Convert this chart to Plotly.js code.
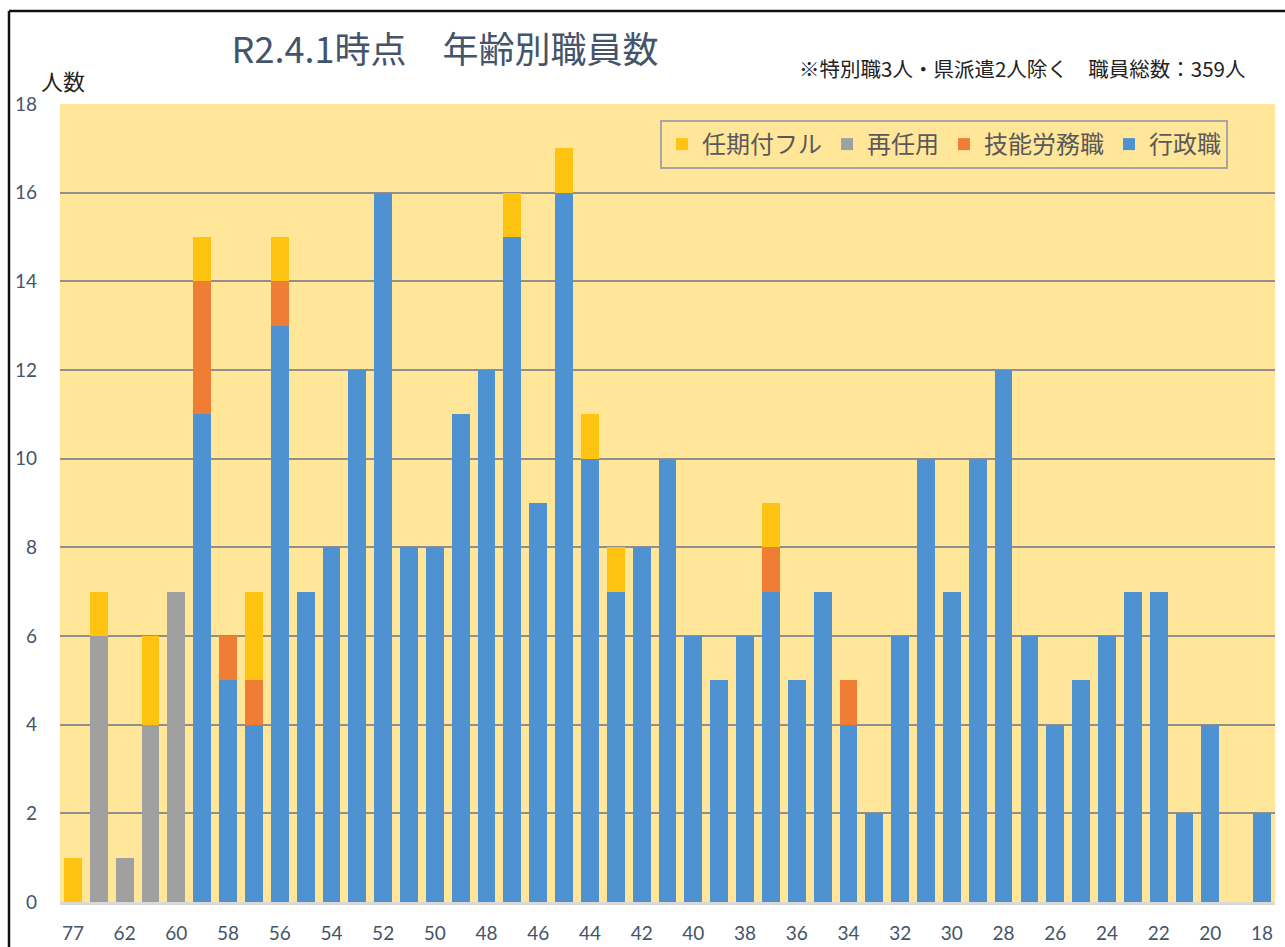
<!DOCTYPE html>
<html>
<head>
<meta charset="utf-8">
<script src="https://cdn.plot.ly/plotly-3.0.1.min.js"></script>
<style>
html,body{margin:0;padding:0;background:#ffffff;}
#chart{width:1285px;height:947px;}
</style>
</head>
<body>
<div id="chart"></div>
<script>
// Age categories (left to right)
const ages = ["77","63","62","61","60","59","58","57","56","55","54","53","52","51","50","49","48","47","46","45","44","43","42","41","40","39","38","37","36","35","34","33","32","31","30","29","28","27","26","25","24","23","22","21","20","19","18"];
// 行政職
const gyosei   = [0,0,0,0,0,11,5,4,13,7,8,12,16,8,8,11,12,15,9,16,10,7,8,10,6,5,6,7,5,7,4,2,6,10,7,10,12,6,4,5,6,7,7,2,4,0,2];
// 技能労務職
const gino     = [0,0,0,0,0,3,1,1,1,0,0,0,0,0,0,0,0,0,0,0,0,0,0,0,0,0,0,1,0,0,1,0,0,0,0,0,0,0,0,0,0,0,0,0,0,0,0];
// 再任用
const sainin   = [0,6,1,4,7,0,0,0,0,0,0,0,0,0,0,0,0,0,0,0,0,0,0,0,0,0,0,0,0,0,0,0,0,0,0,0,0,0,0,0,0,0,0,0,0,0,0];
// 任期付フル
const ninkitsuki = [1,1,0,2,0,1,0,2,1,0,0,0,0,0,0,0,0,1,0,1,1,1,0,0,0,0,0,1,0,0,0,0,0,0,0,0,0,0,0,0,0,0,0,0,0,0,0];
const seriesNames = ["行政職","技能労務職","再任用","任期付フル"];
const yTicks = [0,2,4,6,8,10,12,14,16,18];
const xTickLabels = ages.filter((a,i)=> i%2===0);

const colors = ["#4E92D2","#F07D34","#A0A0A0","#FFC412"];
const data = [gyosei, gino, sainin, ninkitsuki].map((vals,k)=>({
  type:'bar', x: ages, y: vals, name: seriesNames[k],
  marker:{color: colors[k], line:{width:0}},
  hoverinfo:'x+y+name'
}));

const L = 60, R = 1275, T = 104, B = 902;
const px2x = p => (p - L)/(R - L);
const px2y = p => (B - p)/(B - T);

const layout = {
  width:1285, height:947,
  margin:{l:L, r:1285-R, t:T, b:947-B, pad:0},
  paper_bgcolor:'#ffffff',
  plot_bgcolor:'#FFE699',
  barmode:'stack',
  bargap:0.31,
  showlegend:true,
  font:{family:'"Noto Sans CJK JP", "Noto Sans", sans-serif', color:'#44546A'},
  title:{
    text:'R2.4.1時点　年齢別職員数',
    font:{family:'"Noto Sans CJK JP", sans-serif', size:36, color:'#44546A'},
    x: 445/1285, xanchor:'center', y: 1 - 50/947, yanchor:'middle'
  },
  xaxis:{
    type:'category',
    categoryorder:'array', categoryarray: ages,
    tickmode:'array', tickvals: xTickLabels, ticktext: xTickLabels,
    tickfont:{family:'Lato, "Open Sans", sans-serif', size:19, color:'#44546A'},
    ticks:'', ticklabelstandoff:12,
    showgrid:false, zeroline:false,
    showline:true, linecolor:'#D9D9D9', linewidth:3,
    fixedrange:true
  },
  yaxis:{
    range:[0,18], tickmode:'array', tickvals: yTicks,
    tickfont:{family:'Lato, "Open Sans", sans-serif', size:19, color:'#44546A'},
    ticks:'', ticklabelstandoff:22,
    showgrid:true, gridcolor:'#8F8F8F', gridwidth:2,
    zeroline:false, showline:false, fixedrange:true
  },
  legend:{
    orientation:'h', traceorder:'reversed',
    x: px2x(660), y: px2y(120), xanchor:'left', yanchor:'top',
    bgcolor:'rgba(0,0,0,0)', bordercolor:'#A6A6A6', borderwidth:2,
    font:{family:'"Noto Sans CJK JP", sans-serif', size:24, color:'#595959'},
    itemwidth:30
  },
  annotations:[
    {text:'人数', xref:'paper', yref:'paper', x: px2x(63), y: px2y(80), xanchor:'center', yanchor:'middle', showarrow:false,
     font:{family:'"Noto Sans CJK JP", sans-serif', size:22, color:'#222222'}},
    {text:'※特別職3人・県派遣2人除く　職員総数：359人', xref:'paper', yref:'paper', x: px2x(1022), y: px2y(68), xanchor:'center', yanchor:'middle', showarrow:false,
     font:{family:'"Noto Sans CJK JP", sans-serif', size:20.5, color:'#222222'}}
  ],
  shapes:[
    {type:'line', xref:'paper', yref:'paper', x0: px2x(9), x1: px2x(1300), y0: px2y(11), y1: px2y(11), line:{color:'#111111', width:2.5}},
    {type:'line', xref:'paper', yref:'paper', x0: px2x(9), x1: px2x(9), y0: px2y(11), y1: px2y(960), line:{color:'#111111', width:2.5}}
  ]
};

Plotly.newPlot('chart', data, layout, {displayModeBar:false, staticPlot:true});
</script>
</body>
</html>
